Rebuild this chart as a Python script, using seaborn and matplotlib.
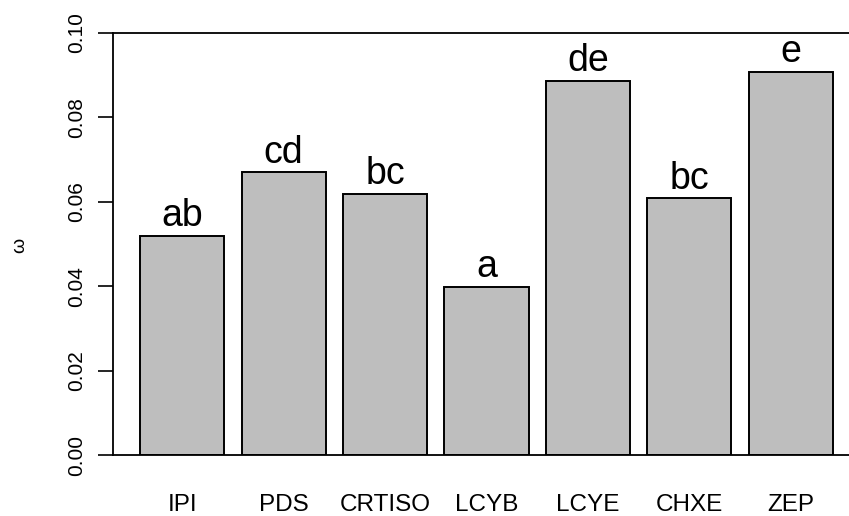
import numpy as np
import pandas as pd
import matplotlib
matplotlib.use("Agg")
import matplotlib.pyplot as plt
import seaborn as sns

# values
genes = ["IPI", "PDS", "CRTISO", "LCYB", "LCYE", "CHXE", "ZEP"]
omega = [0.0520, 0.0670, 0.0618, 0.0398, 0.0886, 0.0608, 0.0908]
groups = ["ab", "cd", "bc", "a", "de", "bc", "e"]

sns.set_theme(style="white")
plt.rcParams["font.family"] = ["Liberation Sans", "DejaVu Sans"]
plt.rcParams["text.color"] = "black"

df = pd.DataFrame({"gene": genes, "omega": omega})

fig = plt.figure(figsize=(8.49, 5.16), dpi=100)
ax = fig.add_axes([113 / 849, 1 - 455 / 516, (860 - 113) / 849, (455 - 33) / 516])

sns.barplot(data=df, x="gene", y="omega", order=genes, color="#BEBEBE",
            saturation=1, edgecolor="black", linewidth=1.4, width=0.83, ax=ax)

for i, (v, g) in enumerate(zip(omega, groups)):
    ax.annotate(g, (i, v), xytext=(0, 7), textcoords="offset points",
                ha="center", va="baseline", fontsize=27, color="black")

ax.set_xlim(-0.683, 6.683)
ax.set_ylim(0, 0.10)
ticks = np.arange(0, 0.101, 0.02)
ax.set_yticks(ticks)
ax.set_yticklabels([f"{t:.2f}" for t in ticks], rotation=90, va="center", fontsize=15)
ax.tick_params(axis="y", length=11, width=1.2, pad=8, left=True, colors="black")
ax.tick_params(axis="x", length=0, pad=28, labelsize=17.5, colors="black")
ax.set_xlabel("")
ax.set_ylabel("")
for side in ["left", "top", "bottom", "right"]:
    ax.spines[side].set_color("black")
    ax.spines[side].set_linewidth(1.3)

fig.text(20 / 849, 1 - 245 / 516, "ω", rotation=90, ha="center", va="center",
         fontsize=14, color="black")

fig.savefig("out.png", dpi=100)
